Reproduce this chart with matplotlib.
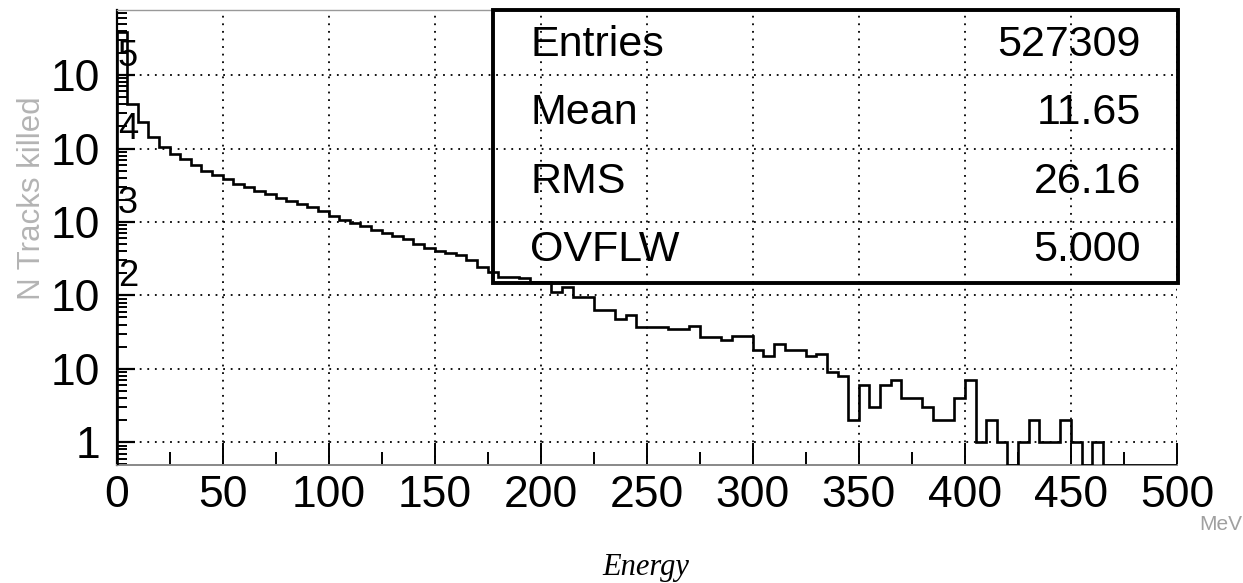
import numpy as np
import matplotlib
matplotlib.use("Agg")
import matplotlib.pyplot as plt
from matplotlib.ticker import FixedLocator, LogLocator, NullFormatter, FixedFormatter
from matplotlib.patches import Rectangle

# ---- data ----
bin_edges = np.arange(0, 505, 5)
counts = [
    390000, 41000, 23000, 14200, 10400, 8500, 7100, 5900, 4980, 4380,
    3800, 3300, 3000, 2640, 2400, 2100, 1900, 1740, 1580, 1410,
    1200, 1080, 960, 870, 780, 700, 640, 580, 500, 440,
    405, 380, 354, 302, 240, 205, 180, 178, 170, 152,
    150, 111, 130, 95, 95, 63, 63, 48, 54, 37,
    37, 37, 35, 35, 38, 27, 27, 25, 28, 28,
    18, 15, 22, 18, 18, 15, 16, 9, 8, 2,
    6, 3, 6, 7, 4, 4, 3, 2, 2, 4,
    7, 1, 2, 1, 0, 1, 2, 1, 1, 2,
    1, 0, 1, 0, 0, 0, 0, 0, 0, 0,
]
x_ticks = [0, 50, 100, 150, 200, 250, 300, 350, 400, 450, 500]
y_ticks = [1, 10, 100, 1000, 10000, 100000]
y_tick_labels = ["1", "10", "10", "10", "10", "10"]
y_exponents = {100: "2", 1000: "3", 10000: "4", 100000: "5"}
stat_names = ["Entries", "Mean", "RMS", "OVFLW"]
stat_values = ["527309", "11.65", "26.16", "5.000"]

W, H = 1243, 583
fig = plt.figure(figsize=(W / 100, H / 100), dpi=100)
fig.patch.set_facecolor("white")

ax_l, ax_r, ax_t, ax_b = 116.5, 1177, 10, 465
ax = fig.add_axes([ax_l / W, 1 - ax_b / H, (ax_r - ax_l) / W, (ax_b - ax_t) / H])

ymin, ymax = 0.49, 7.7e5
ax.set_yscale("log")
ax.set_xlim(0, 500)
ax.set_ylim(ymin, ymax)

vals = np.array(counts, dtype=float)
vals_plot = np.where(vals > 0, vals, ymin)
ax.stairs(vals_plot, bin_edges, baseline=ymin, color="black", lw=1.9, zorder=3)

# grid
ax.set_xticks(x_ticks)
ax.xaxis.set_minor_locator(FixedLocator(np.arange(25, 500, 50)))
ax.yaxis.set_major_locator(FixedLocator(y_ticks))
ax.yaxis.set_major_formatter(FixedFormatter(y_tick_labels))
ax.yaxis.set_minor_locator(LogLocator(base=10, subs=np.arange(2, 10), numticks=20))
ax.yaxis.set_minor_formatter(NullFormatter())
ax.grid(True, which="major", color="black", linestyle=(0, (1, 3.2)), lw=1.3, zorder=1)

for lbl in ax.get_xticklabels() + ax.get_yticklabels():
    lbl.set_fontfamily("Liberation Sans")
    lbl.set_fontsize(32)

ax.tick_params(axis="x", which="major", direction="in", length=16, width=1.4, pad=7, colors="black")
ax.tick_params(axis="x", which="minor", direction="in", length=9.5, width=1.4)
ax.tick_params(axis="y", which="major", direction="in", length=13, width=1.6, pad=12)
ax.tick_params(axis="y", which="minor", direction="in", length=7, width=1.4)

ax.spines["right"].set_visible(False)
ax.spines["top"].set_color("#999999")
ax.spines["top"].set_linewidth(1.0)
ax.spines["bottom"].set_color("#888888")
ax.spines["bottom"].set_linewidth(1.4)
ax.spines["left"].set_color("black")
ax.spines["left"].set_linewidth(1.6)

# exponents of y tick labels
for yv, ex in y_exponents.items():
    ax.annotate(ex, xy=(0, yv), xycoords=("axes fraction", "data"),
                xytext=(8.3, 13.5), textcoords="offset points",
                ha="center", va="center", fontsize=26,
                family="Liberation Sans", color="black", zorder=5)

# stats box
bx0, bx1, by0, by1 = 493, 1178, 10, 283
fig.patches.append(Rectangle((bx0 / W, 1 - by1 / H), (bx1 - bx0) / W, (by1 - by0) / H,
                             transform=fig.transFigure, fill=False,
                             edgecolor="black", lw=2.8, zorder=10))
row_y = [45, 113, 182, 250]
for name, val, yy in zip(stat_names, stat_values, row_y):
    fig.text(530 / W, 1 - yy / H, name, ha="left", va="center", fontsize=31,
             family="Liberation Sans", color="black")
    fig.text(1141 / W, 1 - yy / H, val, ha="right", va="center", fontsize=31,
             family="Liberation Sans", color="black")

# axis labels
fig.text(32 / W, 1 - 198 / H, "N Tracks killed", rotation=90, ha="center", va="center",
         fontsize=22.5, family="Liberation Sans", color="#b4b4b4")
fig.text(1242 / W, 1 - 524 / H, "MeV", ha="right", va="center", fontsize=15,
         family="Liberation Sans", color="#a0a0a0")
fig.text(646 / W, 1 - 567 / H, "Energy", ha="center", va="center", fontsize=22,
         family="Liberation Serif", style="italic", color="black")

fig.savefig("out.png", dpi=100)
